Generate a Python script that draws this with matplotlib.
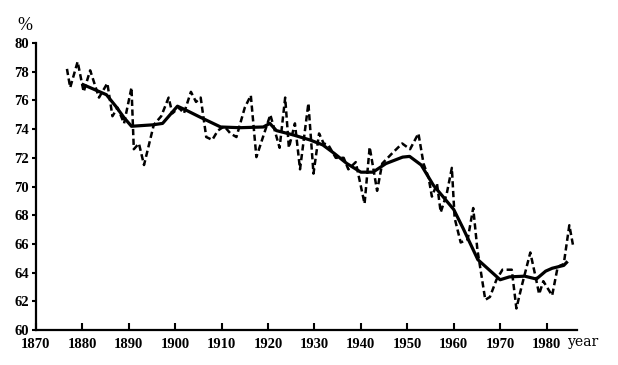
import numpy as np
import matplotlib
matplotlib.use("Agg")
import matplotlib.pyplot as plt

# annual values (dashed)
years_annual = [1876.7, 1877.4, 1879.0, 1880.3, 1881.7, 1883.6, 1885.4, 1886.5, 1887.6, 1889.0,
                1890.6, 1891.1, 1892.2, 1893.3, 1895.4, 1897.0, 1898.6, 1899.4, 1900.8, 1901.9,
                1903.4, 1904.5, 1905.5, 1906.7, 1908.0, 1909.2, 1910.6, 1911.9, 1913.2, 1915.0,
                1916.3, 1917.5, 1920.5, 1922.5, 1923.7, 1924.5, 1925.8, 1926.9, 1928.7, 1929.8,
                1931.0, 1932.0, 1933.0, 1934.6, 1936.3, 1937.3, 1938.9, 1940.8, 1941.9, 1943.5,
                1944.6, 1946.7, 1948.9, 1950.6, 1952.4, 1953.5, 1954.6, 1955.3, 1956.4, 1957.2,
                1958.5, 1959.6, 1960.2, 1961.5, 1963.0, 1964.2, 1965.1, 1966.8, 1967.8, 1969.2,
                1970.5, 1972.5, 1973.5, 1974.6, 1976.5, 1977.7, 1978.4, 1979.3, 1981.2, 1982.4,
                1983.7, 1984.9, 1985.7]
pct_annual = [78.2, 76.9, 78.7, 76.6, 78.1, 76.2, 77.2, 74.9, 75.5, 74.4,
              76.9, 72.6, 73.0, 71.5, 74.3, 74.9, 76.2, 75.1, 75.5, 75.1,
              76.6, 75.9, 76.2, 73.45, 73.25, 73.9, 74.2, 73.7, 73.45, 75.5,
              76.35, 72.05, 75.0, 72.7, 76.2, 72.7, 74.4, 71.2, 75.8, 70.9,
              73.7, 73.0, 72.9, 72.0, 72.0, 71.2, 71.7, 68.8, 72.75, 69.7,
              71.6, 72.3, 73.0, 72.6, 73.7, 71.6, 70.6, 69.3, 70.2, 68.2,
              69.5, 71.3, 67.8, 66.1, 66.3, 68.5, 65.6, 62.1, 62.3, 63.5,
              64.2, 64.2, 61.5, 63.0, 65.4, 63.6, 62.5, 63.4, 62.4, 64.4,
              64.6, 67.3, 65.9]

# moving average (solid)
years_smooth = [1880.2, 1882.0, 1885.2, 1887.2, 1889.0, 1890.6, 1895.2, 1897.3, 1900.5, 1902.5,
                1905.6, 1909.8, 1914.0, 1919.0, 1920.4, 1921.8, 1925.4, 1929.0, 1931.8, 1934.3,
                1937.0, 1940.0, 1942.6, 1945.4, 1949.0, 1950.5, 1953.0, 1955.6, 1960.0, 1962.0,
                1965.2, 1970.0, 1972.0, 1975.3, 1977.8, 1979.8, 1981.2, 1983.7, 1984.3]
pct_smooth = [77.1, 76.85, 76.4, 75.6, 74.8, 74.2, 74.3, 74.4, 75.6, 75.3,
              74.8, 74.15, 74.1, 74.15, 74.4, 73.9, 73.6, 73.25, 72.9, 72.3,
              71.6, 71.0, 71.0, 71.6, 72.05, 72.1, 71.5, 70.1, 68.4, 67.1,
              64.9, 63.5, 63.7, 63.75, 63.55, 64.1, 64.3, 64.5, 64.7]

x_ticks = [1870, 1880, 1890, 1900, 1910, 1920, 1930, 1940, 1950, 1960, 1970, 1980]
y_ticks = [60, 62, 64, 66, 68, 70, 72, 74, 76, 78, 80]

plt.rcParams['font.family'] = ['Liberation Serif', 'DejaVu Serif']

fig = plt.figure(figsize=(6.18, 3.65), dpi=100)
ax = fig.add_axes([0.058, 0.096, 0.876, 0.786])

ax.plot(years_annual, pct_annual, color='black', lw=1.8, linestyle=(0, (2.5, 1.4)))
ax.plot(years_smooth, pct_smooth, color='black', lw=2.3, solid_joinstyle='round')

ax.set_xlim(1870, 1986.6)
ax.set_ylim(60, 80)
ax.set_xticks(x_ticks)
ax.set_yticks(y_ticks)
ax.tick_params(axis='x', direction='in', length=5, width=1.5, labelsize=10.5, pad=6)
ax.tick_params(axis='y', direction='out', length=3, width=1.5, labelsize=10.5, pad=2)
for lab in ax.get_xticklabels() + ax.get_yticklabels():
    lab.set_fontweight('bold')

ax.spines['top'].set_visible(False)
ax.spines['right'].set_visible(False)
ax.spines['left'].set_linewidth(1.6)
ax.spines['bottom'].set_linewidth(1.6)

ax.text(-0.020, 1.06, '%', transform=ax.transAxes, fontsize=13, ha='center', va='center')
ax.text(0.983, -0.042, 'year', transform=ax.transAxes, fontsize=10,
        family='DejaVu Serif', ha='left', va='center')

fig.savefig('out.png', dpi=100)
